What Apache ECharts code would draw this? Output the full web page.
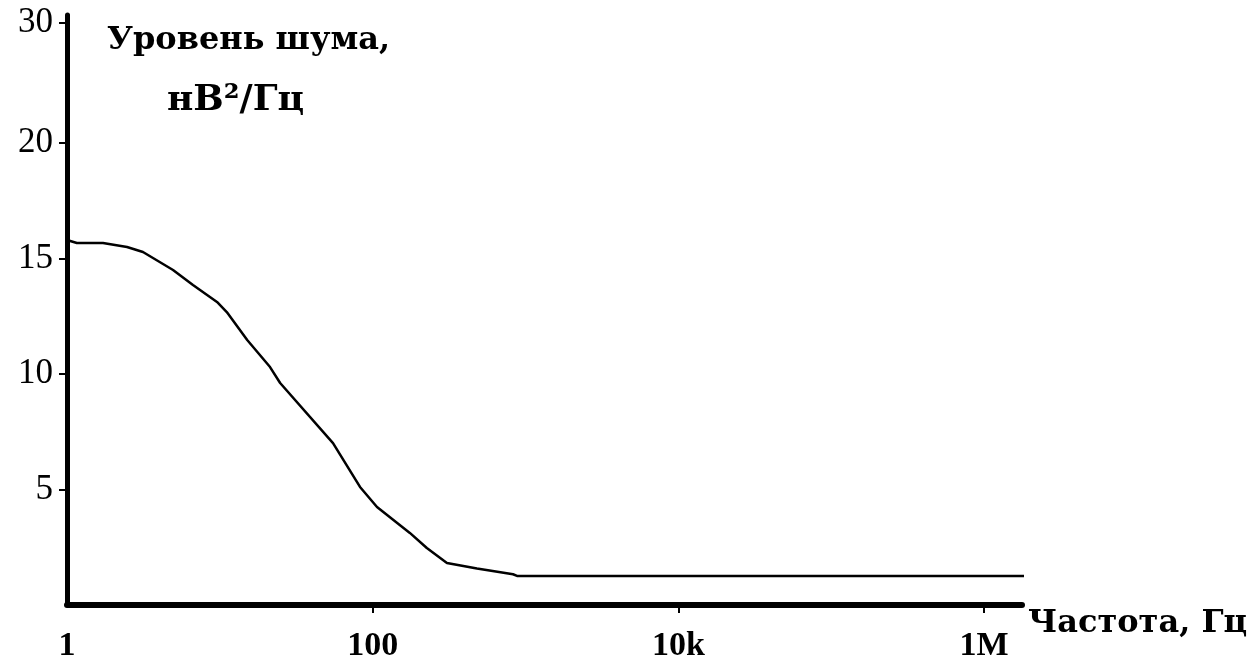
<!DOCTYPE html>
<html>
<head>
<meta charset="utf-8">
<script src="https://cdn.jsdelivr.net/npm/echarts@6/dist/echarts.min.js"></script>
<style>
html,body{margin:0;padding:0;background:#fff;}
#chart{width:1250px;height:663px;}
</style>
</head>
<body>
<div id="chart"></div>
<script>
// Frequency, Hz
var freq = [1, 1.16, 1.72, 2.47, 3.14, 4.94, 6.67, 9.58, 11.1, 15.1, 21.3, 24.8, 55.0, 82.6, 106.7, 175, 226, 306, 481, 828, 879, 2.06e6];
// Noise level, nV^2/Hz
var noise = [15.8, 15.67, 15.67, 15.5, 15.28, 14.5, 13.85, 13.12, 12.68, 11.47, 10.3, 9.61, 7.01, 5.11, 4.24, 3.12, 2.47, 1.82, 1.58, 1.33, 1.26, 1.26];

var xTickValues = [1, 100, 10000, 1000000];
var xTickLabels = ['1', '100', '10k', '1M'];
var xTickMarks = [100, 10000, 1000000];
var yTickValues = [5, 10, 15, 20, 25.2];
var yTickLabels = ['5', '10', '15', '20', '30'];

var xName = 'Частота, Гц';
var yNameLine1 = 'Уровень шума,';
var yNameLine2 = 'нВ²/Гц';

var chart = echarts.init(document.getElementById('chart'));
var pts = freq.map(function (f, i) { return [f, noise[i]]; });

function lookup(vals, labels, v) {
  for (var i = 0; i < vals.length; i++) {
    if (Math.abs(vals[i] - v) < 1e-6 * Math.max(1, Math.abs(v))) return labels[i];
  }
  return '';
}

chart.setOption({
  animation: false,
  backgroundColor: '#fff',
  grid: { left: 67, right: 228, top: 15, bottom: 58, containLabel: false, outerBoundsMode: 'none' },
  xAxis: {
    type: 'log',
    logBase: 10,
    min: 1,
    max: 1.77e6,
    name: xName,
    nameLocation: 'end',
    nameGap: 6,
    nameTextStyle: {
      fontFamily: 'DejaVu Serif', fontWeight: 'bold', fontSize: 32, color: '#000',
      align: 'left', verticalAlign: 'top', padding: [3, 0, 0, 0]
    },
    axisLine: { show: true, lineStyle: { color: '#000', width: 6 } },
    axisTick: { show: true, length: 8, lineStyle: { color: '#000', width: 2 }, customValues: xTickMarks },
    axisLabel: {
      show: true, margin: 24, color: '#000',
      fontFamily: 'Liberation Serif', fontWeight: 'bold', fontSize: 34,
      customValues: xTickValues,
      formatter: function (v) { return lookup(xTickValues, xTickLabels, v); }
    },
    splitLine: { show: false },
    minorTick: { show: false }
  },
  yAxis: {
    type: 'value',
    min: 0,
    max: 25.54,
    name: '{a|' + yNameLine1 + '}\n{b|' + yNameLine2 + '}',
    nameLocation: 'end',
    nameGap: -1,
    nameTextStyle: {
      align: 'left', verticalAlign: 'top', padding: [0, 0, 0, 40],
      rich: {
        a: { fontFamily: 'DejaVu Serif', fontWeight: 'bold', fontSize: 32, color: '#000', lineHeight: 50 },
        b: { fontFamily: 'DejaVu Serif', fontWeight: 'bold', fontSize: 36, color: '#000', lineHeight: 70, padding: [0, 0, 0, 60] }
      }
    },
    axisLine: { show: true, lineStyle: { color: '#000', width: 5 } },
    axisTick: { show: true, length: 8, lineStyle: { color: '#000', width: 2 }, customValues: yTickValues },
    axisLabel: {
      show: true, margin: 14, color: '#000',
      fontFamily: 'Liberation Serif', fontSize: 35,
      customValues: yTickValues,
      formatter: function (v) { return lookup(yTickValues, yTickLabels, v); }
    },
    splitLine: { show: false }
  },
  series: [{
    type: 'line',
    data: pts,
    showSymbol: false,
    symbol: 'none',
    clip: false,
    lineStyle: { color: '#000', width: 2.5 }
  }]
});
</script>
</body>
</html>
